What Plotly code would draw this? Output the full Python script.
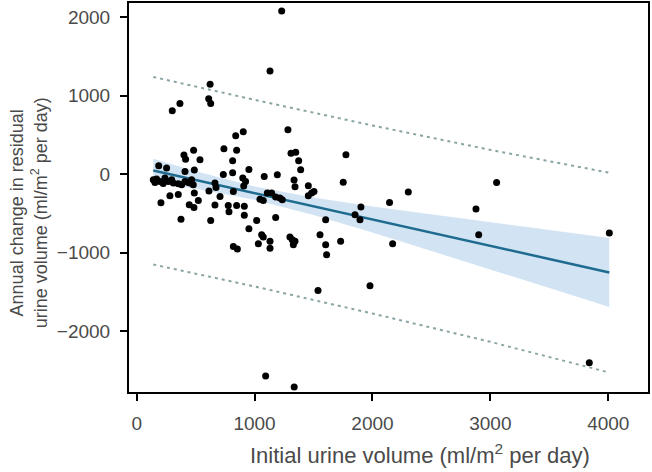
import plotly.graph_objects as go

# Scatter data: initial urine volume (x) vs annual change in residual urine volume (y)
initial_volume = [
    1230, 1131, 623, 611, 628, 367, 302, 1283, 904, 840, 1775, 483, 401, 415, 537, 740,
    848, 814, 1309, 1349, 1374, 1391, 489, 187, 254, 735, 814, 952, 1082, 1193, 1752, 410,
    141, 169, 198, 240, 268, 297, 311, 353, 382, 410, 438, 452, 466, 480, 155, 225,
    206, 282, 353, 489, 523, 446, 486, 376, 613, 664, 673, 628, 664, 707, 777, 783,
    820, 848, 913, 913, 900, 924, 908, 952, 1018, 1046, 1074, 1060, 1074, 1032, 1108, 1145,
    1179, 1131, 1131, 1179, 1215, 1235, 820, 854, 1300, 1320, 1343, 1329, 1335, 1343, 1456, 1484,
    1504, 1456, 1603, 1555, 1603, 1611, 1730, 1852, 1902, 1894, 2145, 2304, 2171, 2878, 3053, 2901,
    4009, 3839, 1094, 1336, 1538, 1979,
]
annual_change = [
    2080, 1317, 1148, 961, 901, 901, 808, 566, 540, 489, 247, 305, 243, 190, 185, 323,
    305, 171, 268, 278, 172, 56, 52, 107, 80, -4, 18, 60, -29, -6, -104, 34,
    -71, -62, -93, -50, -93, -71, -113, -122, -135, -93, -106, -113, -71, -135, -105, -118,
    -365, -275, -258, -241, -335, -390, -425, -576, -215, -113, -170, -590, -392, -284, -400, -480,
    -220, -400, -410, -525, -50, -93, -150, -695, -590, -320, -335, -772, -801, -887, -241, -241,
    -290, -857, -946, -553, -304, -326, -921, -954, -801, -836, -857, -899, -75, -160, -148, -241,
    -220, -275, -581, -772, -899, -1027, -857, -517, -419, -581, -360, -228, -887, -445, -106, -772,
    -750, -2406, -2573, -2713, -1485, -1422,
]

# Regression fit, 95% confidence band and prediction interval
fit_x = [141, 500, 1000, 1500, 2000, 2500, 3000, 3500, 4009]
fit_y = [47, -74, -242, -410, -578, -746, -914, -1082, -1253]
ci_upper = [197, 38, -157, -298, -411, -514, -615, -713, -813]
ci_lower = [-103, -186, -327, -522, -745, -978, -1213, -1451, -1693]
pi_x = [141, 1000, 2000, 3000, 4009]
pi_upper = [1240, 948, 621, 310, 18]
pi_lower = [-1152, -1432, -1777, -2138, -2530]

x_ticks = [0, 1000, 2000, 3000, 4000]
y_ticks = [-2000, -1000, 0, 1000, 2000]

text_color = "#4a4a4a"
font_family = "Liberation Sans, Arial, sans-serif"

fig = go.Figure()

# Confidence band
fig.add_trace(go.Scatter(x=fit_x, y=ci_upper, mode="lines", line=dict(width=0),
                         showlegend=False, hoverinfo="skip"))
fig.add_trace(go.Scatter(x=fit_x, y=ci_lower, mode="lines", line=dict(width=0),
                         fill="tonexty", fillcolor="#d2e4f4", showlegend=False, hoverinfo="skip"))

# Prediction interval (dotted)
for yy in (pi_upper, pi_lower):
    fig.add_trace(go.Scatter(x=pi_x, y=yy, mode="lines",
                             line=dict(color="#8aa4a4", width=2, dash="3px,4px"),
                             showlegend=False, hoverinfo="skip"))

# Regression line
fig.add_trace(go.Scatter(x=fit_x, y=fit_y, mode="lines",
                         line=dict(color="#1f6b8f", width=2.5), showlegend=False))

# Points
fig.add_trace(go.Scatter(x=initial_volume, y=annual_change, mode="markers",
                         marker=dict(color="black", size=7), showlegend=False))

axis_common = dict(
    showline=True, mirror=True, linecolor="black", linewidth=2,
    ticks="outside", ticklen=7, tickwidth=2, tickcolor="black",
    showgrid=False, zeroline=False, automargin=False,
    tickfont=dict(family=font_family, size=19, color=text_color),
)

fig.update_layout(
    width=652, height=472,
    margin=dict(l=129, r=4, t=3, b=80),
    plot_bgcolor="white", paper_bgcolor="white",
    xaxis=dict(range=[-65, 4337], tickvals=x_ticks, ticktext=[str(v) for v in x_ticks],
               ticklabelstandoff=6, **axis_common),
    yaxis=dict(range=[-2778, 2183], tickvals=y_ticks,
               ticktext=[str(v).replace("-", "\u2212") for v in y_ticks],
               ticklabelstandoff=6, **axis_common),
    annotations=[
        dict(text="Initial urine volume (ml/m<sup>2</sup> per day)", xref="paper", yref="paper",
             x=0.56, y=-0.16, xanchor="center", yanchor="middle", showarrow=False,
             font=dict(family=font_family, size=22, color=text_color)),
        dict(text="Annual change in residual<br>urine volume (ml/m<sup>2</sup> per day)",
             xref="paper", yref="paper", x=-0.194, y=0.46, xanchor="center", yanchor="middle",
             textangle=-90, showarrow=False,
             font=dict(family=font_family, size=18, color=text_color)),
    ],
)

fig.write_html("out.html", config={"displayModeBar": False},
               post_script="document.body.style.margin='0';document.body.style.overflow='hidden';")
